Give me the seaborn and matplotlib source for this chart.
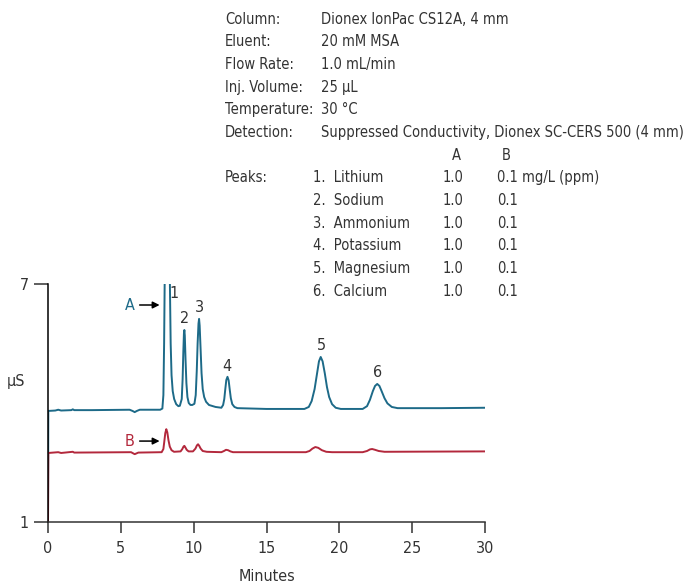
import pandas as pd
import seaborn as sns
import matplotlib.pyplot as plt

# chromatogram A (1.0 mg/L): minutes, µS
time_a = [0.0, 0.02, 0.5, 0.7, 0.9, 1.6, 1.7, 1.8, 3.0, 5.6, 5.8, 5.95, 6.1, 6.3,
          7.7, 7.85, 7.92, 7.97, 8.02, 8.08, 8.15, 8.24, 8.3, 8.36, 8.42, 8.48, 8.56,
          8.66, 8.8, 8.95, 9.05, 9.18, 9.24, 9.29, 9.33, 9.36, 9.39, 9.44, 9.5, 9.57,
          9.66, 9.78, 9.9, 10.05, 10.14, 10.21, 10.27, 10.33, 10.37, 10.41, 10.47, 10.54,
          10.62, 10.72, 10.85, 11.05, 11.5, 11.9, 12.02, 12.1, 12.17, 12.24, 12.32, 12.4,
          12.47, 12.55, 12.65, 12.8, 13.0, 15.0, 17.6, 17.9, 18.1, 18.3, 18.45, 18.6,
          18.72, 18.85, 19.0, 19.15, 19.3, 19.5, 19.75, 20.1, 21.6, 21.9, 22.1, 22.3,
          22.45, 22.6, 22.75, 22.9, 23.1, 23.3, 23.6, 24.0, 27.0, 30.0]
signal_a = [1.0, 3.80, 3.81, 3.83, 3.81, 3.82, 3.84, 3.82, 3.82, 3.83, 3.80, 3.77, 3.80, 3.83,
            3.83, 3.86, 4.2, 5.5, 7.5, 9.5, 10.5, 10.2, 9.0, 7.2, 5.5, 4.7, 4.3,
            4.1, 3.97, 3.92, 3.93, 4.1, 4.6, 5.3, 5.75, 5.84, 5.7, 5.1, 4.5, 4.15,
            4.0, 3.95, 3.95, 3.98, 4.2, 4.8, 5.5, 6.0, 6.12, 5.95, 5.4, 4.75,
            4.35, 4.15, 4.03, 3.95, 3.9, 3.88, 3.95, 4.1, 4.35, 4.58, 4.66, 4.57,
            4.35, 4.12, 3.97, 3.9, 3.87, 3.85, 3.85, 3.9, 4.05, 4.35, 4.7, 5.05,
            5.16, 5.05, 4.75, 4.4, 4.15, 3.97, 3.88, 3.85, 3.85, 3.92, 4.08, 4.3,
            4.43, 4.48, 4.43, 4.3, 4.12, 3.99, 3.9, 3.87, 3.87, 3.88]

# chromatogram B (0.1 mg/L)
time_b = [0.0, 0.02, 0.7, 0.9, 1.7, 1.8, 5.7, 5.95, 6.2, 7.8, 7.92, 7.98, 8.05, 8.12,
          8.19, 8.27, 8.36, 8.48, 8.65, 9.1, 9.22, 9.3, 9.36, 9.43, 9.52, 9.65, 9.95,
          10.12, 10.22, 10.3, 10.38, 10.48, 10.62, 10.9, 11.9, 12.08, 12.22, 12.36,
          12.52, 12.7, 17.7, 17.95, 18.15, 18.35, 18.55, 18.8, 19.1, 19.5, 21.6, 21.9,
          22.1, 22.25, 22.45, 22.7, 23.1, 30.0]
signal_b = [1.0, 2.74, 2.76, 2.74, 2.77, 2.75, 2.76, 2.71, 2.75, 2.76, 2.84, 3.02, 3.24, 3.34,
            3.26, 3.06, 2.9, 2.81, 2.77, 2.78, 2.84, 2.9, 2.92, 2.88, 2.82, 2.78, 2.78,
            2.85, 2.93, 2.96, 2.92, 2.85, 2.79, 2.77, 2.76, 2.79, 2.82, 2.81, 2.78,
            2.76, 2.76, 2.79, 2.85, 2.89, 2.87, 2.81, 2.77, 2.76, 2.76, 2.79,
            2.83, 2.84, 2.82, 2.79, 2.77, 2.78]

# peak number labels (position above each apex of trace A)
peak_ids = ['1', '2', '3', '4', '5', '6']
peak_t = [8.65, 9.4, 10.4, 12.3, 18.75, 22.6]
peak_y = [6.77, 6.12, 6.40, 4.93, 5.46, 4.76]

conditions = [('Column:', 'Dionex IonPac CS12A, 4 mm'),
              ('Eluent:', '20 mM MSA'),
              ('Flow Rate:', '1.0 mL/min'),
              ('Inj. Volume:', '25 µL'),
              ('Temperature:', '30 °C'),
              ('Detection:', 'Suppressed Conductivity, Dionex SC-CERS 500 (4 mm)')]
analytes = ['1.  Lithium', '2.  Sodium', '3.  Ammonium', '4.  Potassium',
            '5.  Magnesium', '6.  Calcium']
conc_a = ['1.0', '1.0', '1.0', '1.0', '1.0', '1.0']
conc_b = ['0.1 mg/L (ppm)', '0.1', '0.1', '0.1', '0.1', '0.1']

teal = '#1d6a88'
red = '#b3283c'
txt = '#333333'

sns.set_style('ticks')
plt.rcParams['font.family'] = ['DejaVu Sans']
plt.rcParams['font.stretch'] = 'condensed'

df = pd.concat([pd.DataFrame({'Minutes': time_a, 'uS': signal_a, 'Sample': 'A'}),
                pd.DataFrame({'Minutes': time_b, 'uS': signal_b, 'Sample': 'B'})])

fig = plt.figure(figsize=(6.84, 5.86), dpi=100)
ax = fig.add_axes([0.0702, 0.1092, 0.6389, 0.4062])
sns.lineplot(data=df, x='Minutes', y='uS', hue='Sample', palette={'A': teal, 'B': red},
             sort=False, estimator=None, linewidth=1.4, legend=False, ax=ax)

ax.set_xlim(0, 30)
ax.set_ylim(1, 7)
ax.set_xticks([0, 5, 10, 15, 20, 25, 30])
ax.set_yticks([1, 7])
ax.tick_params(axis='both', length=8, width=1.1, color=txt, labelcolor=txt,
               labelsize=11.5, direction='out')
ax.tick_params(axis='x', pad=6)
ax.tick_params(axis='y', length=10, pad=4)
sns.despine(ax=ax)
ax.spines['left'].set_color('black')
ax.spines['bottom'].set_color(txt)
ax.spines['left'].set_linewidth(1.1)
ax.spines['bottom'].set_linewidth(1.1)
ax.set_xlabel('Minutes', fontsize=11.5, color=txt, labelpad=9)
ax.set_ylabel('')
ax.text(-1.6, 4.55, 'µS', fontsize=11.5, color=txt, ha='right', va='center')

for lab, t, y in zip(peak_ids, peak_t, peak_y):
    ax.text(t, y, lab, fontsize=11.5, color=txt, ha='center', va='center')

# sample labels with arrows
ax.annotate('', xy=(7.85, 6.47), xytext=(6.1, 6.47),
            arrowprops=dict(arrowstyle='-|>', color='black', lw=1.1, mutation_scale=10))
ax.text(5.6, 6.47, 'A', fontsize=11.5, color=teal, ha='center', va='center')
ax.annotate('', xy=(7.85, 3.04), xytext=(6.1, 3.04),
            arrowprops=dict(arrowstyle='-|>', color='black', lw=1.1, mutation_scale=10))
ax.text(5.6, 3.04, 'B', fontsize=11.5, color=red, ha='center', va='center')

# conditions block
H = 586.0
W = 684.0
row = 22.7
fs = 10.5
for i, (k, v) in enumerate(conditions):
    yy = 1 - (19 + i * row) / H
    fig.text(225 / W, yy, k, fontsize=fs, color=txt, va='center')
    fig.text(321 / W, yy, v, fontsize=fs, color=txt, va='center')
yy = 1 - (19 + 6 * row) / H
fig.text(456 / W, yy, 'A', fontsize=fs, color=txt, va='center', ha='center')
fig.text(506 / W, yy, 'B', fontsize=fs, color=txt, va='center', ha='center')
for i, (n, ca, cb) in enumerate(zip(analytes, conc_a, conc_b)):
    yy = 1 - (19 + (7 + i) * row) / H
    if i == 0:
        fig.text(225 / W, yy, 'Peaks:', fontsize=fs, color=txt, va='center')
    fig.text(313 / W, yy, n, fontsize=fs, color=txt, va='center')
    fig.text(443 / W, yy, ca, fontsize=fs, color=txt, va='center')
    fig.text(497 / W, yy, cb, fontsize=fs, color=txt, va='center')

plt.savefig('out.png', dpi=100)
